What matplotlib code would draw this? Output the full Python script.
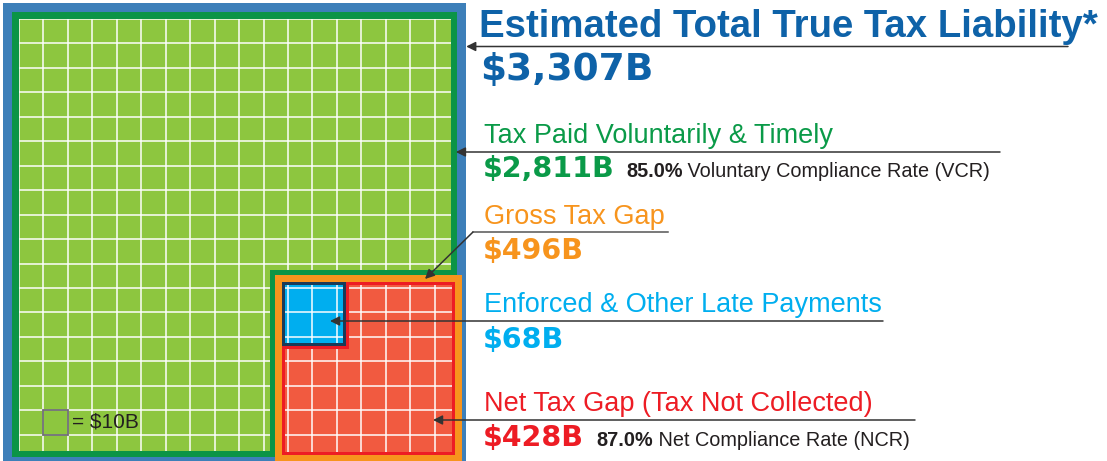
import numpy as np
import matplotlib.pyplot as plt
from matplotlib.patches import Rectangle

# ---- data ($ billions) ----
labels = ["Estimated Total True Tax Liability*", "Tax Paid Voluntarily & Timely",
          "Gross Tax Gap", "Enforced & Other Late Payments",
          "Net Tax Gap (Tax Not Collected)"]
amounts = [3307, 2811, 496, 68, 428]
rate_values = ["85.0%", "87.0%"]
rate_names = ["Voluntary Compliance Rate (VCR)", "Net Compliance Rate (NCR)"]
cell_value = 10  # one grid cell = $10B

# ---- colours ----
BLUE_EDGE = "#3d7fb9"
GREEN_DARK = "#0b9446"
GREEN_FILL = "#8dc63f"
ORANGE = "#f7941d"
RED_EDGE = "#ed1c24"
RED_FILL = "#f15a40"
CYAN = "#00aeef"
NAVY = "#1b3a57"
TITLE_BLUE = "#0e62a8"
DARK = "#231f20"
label_colors = [TITLE_BLUE, "#0a9a48", ORANGE, CYAN, RED_EDGE]

# ---- layout: 1 cell = PX pixels, figure drawn in cell units ----
W, H = 1107, 461
PX = 24.45
OX = 12.5


def c(p):
    # pixel position -> cell coordinate
    return (p - OX) / PX


fig = plt.figure(figsize=(W / 100, H / 100), dpi=100)
ax = fig.add_axes([0, 0, 1, 1])
ax.set_xlim(c(0), c(W))
ax.set_ylim(c(H), c(0))
ax.axis("off")

S = np.sqrt(amounts[0] / cell_value)   # total square side
G = np.sqrt(amounts[2] / cell_value)   # gross gap side
E = np.sqrt(amounts[3] / cell_value)   # enforced side
grid0 = 0.266


def grid_in(rect):
    ks = np.arange(-1, 20) + grid0
    z = rect.get_zorder() + 0.1
    v = ax.vlines(ks, -1, 20, color="white", lw=1.2, alpha=0.9, zorder=z)
    h = ax.hlines(ks, -1, 20, color="white", lw=1.2, alpha=0.9, zorder=z)
    v.set_clip_path(rect)
    h.set_clip_path(rect)


def box(x, y, w, h, color, z):
    r = Rectangle((x, y), w, h, facecolor=color, edgecolor="none", zorder=z)
    ax.add_patch(r)
    return r


# total liability square
box(-0.37, -0.37, S + 0.74, S + 0.74, BLUE_EDGE, 1)
box(0, 0, S, S, GREEN_DARK, 2)
fill = box(0.25, 0.25, S - 0.5, S - 0.5, GREEN_FILL, 3)
grid_in(fill)

# gross tax gap square (bottom right)
g0 = S - 0.1 - G
box(g0 - 0.52, g0 - 0.52, S - g0 + 0.52, S - g0 + 0.52, GREEN_DARK, 4)
box(g0 - 0.32, g0 - 0.32, G + 0.1 + 0.32 + 0.2, G + 0.1 + 0.32 + 0.2, ORANGE, 5)
box(g0, g0, G, G, RED_EDGE, 6)
red = box(g0 + 0.12, g0 + 0.12, G - 0.24, G - 0.24, RED_FILL, 7)
grid_in(red)

# enforced payments square (top left of gap)
box(g0, g0, E + 0.12, E + 0.12, RED_EDGE, 8)
box(g0, g0, E, E, NAVY, 9)
blue = box(g0 + 0.12, g0 + 0.12, E - 0.24, E - 0.24, CYAN, 10)
grid_in(blue)

# legend cell
ax.add_patch(Rectangle((grid0 + 1, grid0 + 16), 1, 1, facecolor="none",
                       edgecolor="#6d6e71", lw=1.3, zorder=12))
ax.text(c(72), c(427), "= $%dB" % cell_value, fontsize=15, color=DARK,
        family="Liberation Sans", va="baseline", zorder=12)

# ---- labels ----
LBL = dict(family="Liberation Sans", va="baseline")
BIG = dict(family="DejaVu Sans", fontweight="bold", va="baseline")

ax.text(c(479), c(37), labels[0], fontsize=27.6, fontweight="bold", color=label_colors[0], **LBL)
ax.text(c(480), c(80), "${:,}B".format(amounts[0]), fontsize=27, color=label_colors[0], **BIG)

label_y = [143, 224, 312, 411]
amount_y = [177, 259, 348, 446]
for i, (ly, ay) in enumerate(zip(label_y, amount_y), start=1):
    ax.text(c(484), c(ly), labels[i], fontsize=19.5, color=label_colors[i], **LBL)
    ax.text(c(483), c(ay), "${:,}B".format(amounts[i]), fontsize=20.5, color=label_colors[i], **BIG)

for rv, rn, rx, ry in zip(rate_values, rate_names, [626, 596], [177, 446]):
    t = ax.text(c(rx), c(ry), rv, fontsize=14.3, fontweight="bold", color=DARK, **LBL)
    ax.annotate(" " + rn, xy=(1, 0), xycoords=t, va="bottom", ha="left",
                fontsize=14.3, color=DARK, family="Liberation Sans")

# ---- leader lines ----
AR = dict(arrowstyle="-|>", color="#333333", lw=1.1, mutation_scale=14, shrinkA=0, shrinkB=0)


def leader(x_end, y, tip):
    ax.annotate("", xy=tip, xytext=(c(x_end), c(y)), arrowprops=AR, zorder=15)


leader(1068, 46.5, (S + 0.37, c(46.5)))
leader(1000, 152, (S - 0.05, c(152)))
ax.plot([c(668), c(473)], [c(232), c(232)], color="#555555", lw=1.1, zorder=15)
ax.annotate("", xy=(c(425), c(279)), xytext=(c(473), c(232)), arrowprops=AR, zorder=15)
leader(883, 321, (c(330), c(321)))
leader(915, 420, (c(433), c(420)))

fig.savefig("out.png", dpi=100)
